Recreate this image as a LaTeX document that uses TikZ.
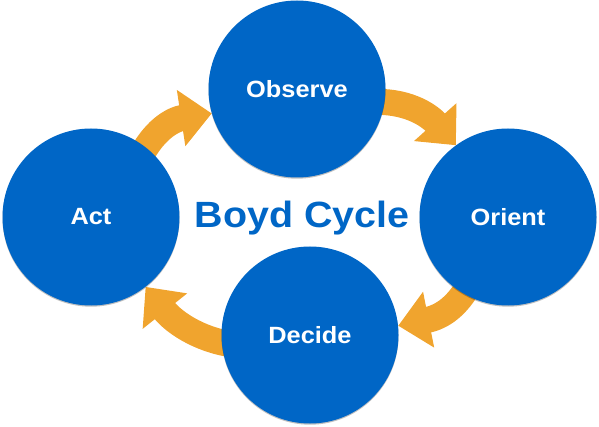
\documentclass[tikz,border=0pt]{standalone}
\usepackage{fontspec}
\setmainfont{Liberation Sans}
\newfontfamily\lblfont[FakeStretch=1.08]{Liberation Sans}
\usetikzlibrary{arrows.meta,calc,shadows,backgrounds}
\definecolor{cblue}{RGB}{0,102,198}
\definecolor{corange}{RGB}{240,164,46}
\tikzset{
  stage/.style={circle,fill=cblue,minimum size=177pt,inner sep=0pt,text=white,
    font=\lblfont\bfseries\fontsize{23.5}{26}\selectfont,
    drop shadow={shadow xshift=0pt,shadow yshift=-1.2pt,opacity=0.25,fill=black}},
  flow/.style={corange,line width=26pt,-{Triangle[length=31pt,width=55pt]}},
}
\begin{document}
\begin{tikzpicture}[x=1pt,y=-1pt]
\useasboundingbox (0,0) rectangle (599,427);
\node[stage] (obs) at (297,89) {Observe};
\node[stage] (ori) at (508,217) {Orient};
\node[stage] (dec) at (310,335) {Decide};
\node[stage] (act) at (91,217) {Act};
\begin{scope}[on background layer]
\draw[flow] ($(act.center)!0.75!(act.48)$) .. controls (152,128) and (175,119) .. (obs.196);
\draw[flow] ($(obs.center)!0.85!(obs.-10)$) .. controls (405,100) and (428,114) .. (ori.126);
\draw[flow] ($(ori.center)!0.85!(ori.240)$) .. controls (458,306) and (442,317) .. (dec.6);
\draw[flow] ($(dec.center)!0.82!(dec.188)$) .. controls (205,342) and (176,325) .. (act.-52);
\end{scope}
\node[anchor=base,text=cblue,font=\lblfont\bfseries\fontsize{36.5}{40}\selectfont] (title) at (302,228) {Boyd Cycle};
\end{tikzpicture}
\end{document}
